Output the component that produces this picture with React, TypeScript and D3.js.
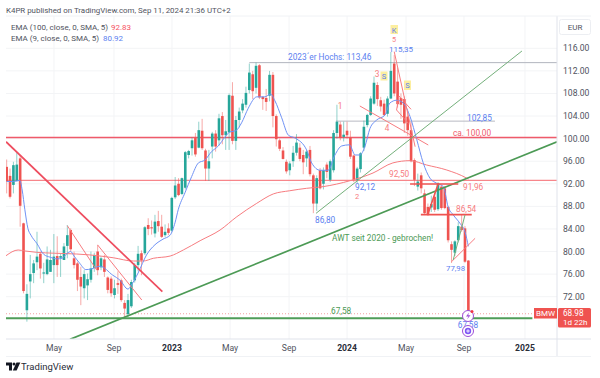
import React from "react";
import * as d3 from "d3";

const opens = [95,93.4,91.8,92.5,96.5,85,69.6,74.7,76.2,78.1,
79.6,76.1,76,76.4,77.6,79.2,78.9,78.5,81,83.8,
78.8,77.9,75.5,73.5,74,75,77.1,80,77.2,78.6,
75.4,75.2,72.3,74.4,74.9,70.9,68.9,70.3,74.9,77.6,
79.7,79.7,84.7,84.3,83.2,85.4,84.4,82.9,84.1,83.7,
89.6,92,90.2,91.3,97.1,98.3,100.1,98.4,101.4,97.9,
94.7,98.6,100.9,99.7,104,100.6,101.1,107.6,99.6,103.3,
105,106,108.6,111.4,109,113,107.4,107.2,107.6,111.3,
104,99.7,97.9,95.9,94.4,96,97.5,98.4,97.1,96.5,
98,93.5,88.5,94.4,92,95.4,92.7,94.4,101,102.5,
100.3,101.4,100.2,97,92.7,94.6,98.4,102.4,104.2,106.2,
109.5,106.8,106.2,104.4,107.1,113.3,110.1,107.2,107,103.9,
101.5,96.2,91.5,93.5,90.3,87.9,87.8,89.7,87.5,91.5,
91.2,87.9,81.3,79.8,82,84.4,84.1,78.4];
const closes = [92.4,89.7,95.3,95.4,88.1,73,72.5,76,77.9,79.1,
77,76.3,78.6,78.5,79.1,77.6,79.2,80.9,82.9,80.4,
77.6,75,73.8,76,75.1,77,79.4,76.7,78.8,76.4,
73.2,72.6,73.5,74.1,71.4,69.9,71.4,74.6,77.6,79.6,
78.4,84.3,84,84.1,85.3,84.5,82.6,83.5,83.3,89.5,
91.7,90,93,97.6,97.8,99.7,97.2,101.5,98.3,94.7,
96,100.9,98.6,103.6,100.6,101.3,107.7,99.6,103.3,104.8,
106.2,108.1,111.7,108.4,112.9,107.3,107,106.5,111.3,104,
99.9,98.2,96.4,94.2,95.6,97.5,99.3,96.4,95.8,97.7,
93.7,88.5,93,91.2,94.4,94.1,96,101,103,100.1,
100.7,100.6,96.8,92.7,94.7,97.4,102.1,104.2,107.1,109.9,
107,105.7,104.2,107.1,112,108,106.1,106,102.7,101.5,
96,92.7,92.4,91.2,86.8,86.5,88.4,87.4,92.1,87.7,
87.7,82,80.3,81.8,84.5,83.8,78.2,68.98];
const highs = [96.3,94.7,95.9,97.5,97.1,85.1,74.2,79.4,78.5,83.5,
80,78,80.9,80.3,83.1,82.7,79.6,81.5,84.7,84.1,
80,78.2,77.3,76.7,76.1,80,79.8,81.2,79.2,79.4,
75.6,75.6,75,76.5,75.2,71.4,72.5,75,78,81,
80.2,84.5,85.9,85.5,86.5,87.2,86.5,84.8,85,89.7,
93.2,93,93.1,97.8,98,100.2,101,103,103.5,98.2,
98,101.2,101.5,104.4,104.7,103.3,108,110,104,105.5,
107,109.2,113.3,112,113.46,113.2,107.5,108.8,112,111.8,
104.3,100,98.5,96.3,96,98.7,100.8,99.2,98,98,
98.7,93.8,93.5,94.8,94.9,95.8,96.3,101.5,106,103,
103,103,101.4,97.2,95,97.6,103.2,104.4,107.5,111,
110,107.4,106.9,107.5,115.35,114.8,112.6,108,107.5,104.5,
103,96.5,93.8,94,91,88.5,89.9,90.5,92.3,91.8,
91.6,88,81.8,82,85.2,86.5,84.5,78.5];
const lows = [90.3,89.4,90.3,92.4,84.4,72.6,67.58,71.7,74.4,76.7,
75.2,74.4,75.8,76.4,74.4,75.5,75.5,78.5,78.8,80,
77,73,70.5,71.7,71.4,74.5,76.4,75.8,76.7,75.5,
72.6,72,71.7,72.5,71.1,68.4,68.4,70,74.5,76.5,
75.8,79.4,82.9,83,82.5,83.5,82.4,82.6,82.9,83.5,
89.3,89.8,90,91,96.5,97,96.8,98.3,98,92.5,
92.5,96.5,97.7,98.8,99,98,98,99,98,102,
104.5,105.5,108,107,108,107,105.1,104.9,106.6,102,
98.6,97.8,96.3,93.8,93.5,95,97,96,93.7,95,
93.3,86.8,87.2,91,91,93,92.3,94,100,99.7,
99.5,100,96.4,92.3,92.12,94,97.8,102,104,106,
105.8,104.8,104,103.9,107,107.5,105.5,103.5,101,100.5,
95.8,91.6,90.8,90.3,86.5,86.3,87,87,87.2,87.4,
87.5,81.6,77.98,79.2,81.6,83.5,78,68.5];

const ema9Weeks = [0,2,3.9,4.6,5.4,6.3,7.2,9,11,12.9,15,16.4,18,19,20,21.7,23.5,25,27.7,31.5,33.6,36,37,39,41.5,44,46.4,48.5,50,50.9,52.9,54.9,56.9,58.8,60.8,62.8,64.8,66.3,68,69.7,71.7,74.2,76.6,78.3,79.6,81.6,83.6,85.6,89,90.5,93,95.4,97.4,99.4,101.7,103.4,104.8,106.3,107.8,109.8,112.3,113.7,115.7,117.7,119.7,121.7,123.6,125.6,127.6,129.6,131,132.5,134.5,136,137];
const ema9Values = [92.4,92.4,92.6,90.9,87.4,84.1,82.9,81.4,79.5,79,78.7,78.8,79.7,80,79.2,77.9,76.8,76.9,77.4,75.8,74.95,73.35,74.07,76.2,79.4,81.2,82.2,82.9,85.2,87.4,90.4,93.3,95.7,96.2,97.7,98.7,100.3,101.2,101.4,102.8,105.4,107.4,107.4,107.9,106.7,103.7,100.6,100.1,98,95.7,94.4,94.4,97.1,98.7,98.9,97.1,97.1,98.6,101.8,103.3,104.2,106.3,106.8,106.3,103.9,99.8,95.7,93,92.1,91.5,87.9,86.5,85,83.5,80.92];
const ema100Weeks = [-0.2,3.4,5.4,8.9,14.3,20.8,24.7,31.6,37.6,40.5,43.5,48.5,52.4,57.4,63.3,68.3,74.2,79.1,84,89,93.9,101.9,108.7,114.6,119.7,124.6,130.6,136.5,137];
const ema100Values = [79.26,80.27,80.1,79.86,79.7,79.56,79.4,78.9,78.32,78.32,78.8,79.2,80.27,81.92,83.8,86.17,88.54,90.2,90.77,91.2,91.5,92.55,93.91,95.7,96.1,95.33,94.44,93,92.83];

const yTicks = [116,112,108,104,100,96,92,88,84,80,76,72];
const xTickWeeks = [14.04,31.84,49.05,66.3,83.8,101,118.5,135.7,153.8];
const xTickLabels = ["May","Sep","2023","May","Sep","2024","May","Sep","2025"];

const redThin = [
  [[18,84.57],[26.7,76.73]],
  [[27,81.16],[40.1,71.41]],
  [[104.8,105.78],[125.1,98.87]],
  [[115,115.4],[121.2,98.57]],
  [[116.4,107.55],[120,105.19]],
  [[115.7,105.07],[119.2,102.71]],
  [[116.4,107.55],[115.7,105.07]],
  [[132,78.2],[139,82.34]],
];
const redThick = [
  [[119.7,91.96],[134,91.96]],
  [[122.9,86.54],[138,86.54]],
  [[124.9,86.47],[128.1,92.08]],
];
const greenThin = [
  [[91.8,86.77],[152.9,115.52]],
  [[132.5,78.5],[136,86.47]],
];

const W = 600, H = 378, LEFT = 6, RIGHT = 557, TOP = 16, BOTTOM = 339;
const x = d3.scaleLinear().domain([-0.2, 163.3]).range([6, 557]);
const y = d3.scaleLinear().domain([116, 72]).range([48.3, 296.7]);
const RED = "#ef5350", TEAL = "#26a69a", FONT = "Roboto, 'Liberation Sans', Arial, sans-serif";

const pathLine = d3.line<[number, number]>().x(d => x(d[0])).y(d => y(d[1]));
const pathCurve = d3.line<[number, number]>().x(d => x(d[0])).y(d => y(d[1])).curve(d3.curveMonotoneX);
const zip = (a: number[], b: number[]) => a.map((v, i) => [v, b[i]] as [number, number]);

function T({ x: tx, y: ty, c, s = 8.3, a = "start", w, children }: any) {
  return <text x={tx} y={ty} fill={c} fontSize={s} textAnchor={a} fontWeight={w} fontFamily={FONT}>{children}</text>;
}

export default function App() {
  const hl = (p: number, c: string, sw: number, from = x.domain()[0], to = x.domain()[1]) =>
    <line x1={x(from)} x2={x(to)} y1={y(p)} y2={y(p)} stroke={c} strokeWidth={sw} />;
  return (
    <svg width={W} height={H} style={{ position: "fixed", left: 0, top: 0, background: "#fff" }}>
      <defs>
        <clipPath id="plot"><rect x={LEFT} y={TOP} width={RIGHT - LEFT} height={BOTTOM - TOP} /></clipPath>
      </defs>
      <T x={6} y={13} c="#50535e" s={7.9}>K4PR published on TradingView.com, Sep 11, 2024 21:36 UTC+2</T>

      {yTicks.map(t => <line key={t} x1={LEFT} x2={RIGHT} y1={y(t)} y2={y(t)} stroke="#f3f4f6" />)}
      {xTickWeeks.map(t => <line key={t} x1={x(t)} x2={x(t)} y1={TOP} y2={BOTTOM} stroke="#f3f4f6" />)}

      <g clipPath="url(#plot)">
        {hl(100.2, "#ef5a6a", 1.6)}
        {hl(92.6, "#f7868b", 1.1)}
        {hl(113.46, "#b2b5be", 1, 72)}
        {hl(103.1, "#b8bac2", 1, 97.7, 144.9)}
        {hl(68.17, "#4f9d58", 2, x.domain()[0], 156)}
        <line x1={x(x.domain()[0])} x2={x(156)} y1={y(68.98)} y2={y(68.98)} stroke="#f2a3a3" strokeWidth={1} strokeDasharray="1 2" />

        {d3.range(opens.length).map(i => {
          const up = closes[i] >= opens[i];
          const col = up ? TEAL : RED;
          const top = y(Math.max(opens[i], closes[i]));
          const h = Math.max(1, Math.abs(y(opens[i]) - y(closes[i])));
          return (
            <g key={i}>
              <line x1={x(i)} x2={x(i)} y1={y(highs[i])} y2={y(lows[i])} stroke={col} strokeOpacity={0.5} strokeWidth={1} />
              <rect x={x(i) - 1.3} y={top} width={2.6} height={h} fill={col} />
            </g>
          );
        })}

        <path d={pathCurve(zip(ema100Weeks, ema100Values))!} fill="none" stroke="#f77c80" strokeWidth={1} />
        <path d={pathCurve(zip(ema9Weeks, ema9Values))!} fill="none" stroke="#6f92f5" strokeWidth={1} />

        <path d={pathLine([[-0.2, 99.45], [46.2, 72.88]])!} fill="none" stroke="#ee4d5f" strokeWidth={1.7} />
        <path d={pathLine([[18.8, 64.45], [163.3, 99.45]])!} fill="none" stroke="#4c9a55" strokeWidth={1.7} />
        {redThin.map((l, i) => <path key={i} d={pathLine(l as any)!} fill="none" stroke="#f77c80" strokeWidth={1} />)}
        {redThick.map((l, i) => <path key={i} d={pathLine(l as any)!} fill="none" stroke="#ef5350" strokeWidth={1.6} />)}
        {greenThin.map((l, i) => <path key={i} d={pathLine(l as any)!} fill="none" stroke="#74b07b" strokeWidth={1} />)}
      </g>

      <T x={11} y={30} c="#50535e" s={8}>EMA (100, close, 0, SMA, 5)</T>
      <T x={111} y={30} c="#f7525f" s={8}>92.83</T>
      <T x={11} y={41} c="#50535e" s={8}>EMA (9, close, 0, SMA, 5)</T>
      <T x={103} y={41} c="#5b80f0" s={8}>80.92</T>

      <rect x={390.5} y={25} width={7.5} height={9} fill="#fcee9f" />
      <T x={394} y={32.5} c="#5b80f0" a="middle" s={7.5}>K</T>
      <T x={394} y={41.5} c="#f77c80" a="middle" s={7.3}>5</T>
      <T x={401} y={51.5} c="#5b80f0" a="middle" s={8}>115,35</T>
      <T x={288} y={60} c="#5b80f0">2023´er Hochs: 113,46</T>
      <T x={377} y={77} c="#f77c80" a="middle">3</T>
      <rect x={380.5} y={71.5} width={7} height={9} fill="#fcee9f" />
      <T x={384} y={79} c="#5b80f0" a="middle" s={7.5}>S</T>
      <rect x={404} y={80.5} width={7} height={9.5} fill="#fcee9f" />
      <T x={407.5} y={88.3} c="#5b80f0" a="middle" s={7.5}>S</T>
      <T x={340} y={109} c="#f77c80" a="middle">1</T>
      <T x={387} y={131} c="#f77c80" a="middle">4</T>
      <T x={467} y={121} c="#5b80f0">102,85</T>
      <T x={453} y={136} c="#ef5a6a">ca. 100,00</T>
      <T x={389} y={177} c="#f77c80">92,50</T>
      <T x={463} y={190} c="#f77c80">91,96</T>
      <T x={355} y={190} c="#5b80f0">92,12</T>
      <T x={357} y={198.5} c="#f77c80" a="middle" s={7.5}>2</T>
      <T x={315} y={223} c="#5b80f0">86,80</T>
      <T x={456} y={212} c="#f77c80">86,54</T>
      <T x={446} y={271} c="#5b80f0" s={7.8}>77,98</T>
      <T x={332} y={241} c="#4c9a55">AWT seit 2020 - gebrochen!</T>
      <T x={331} y={314} c="#4c9a55">67,58</T>
      <T x={468} y={328} c="#5b80f0" a="middle">67,58</T>

      <circle cx={468} cy={316} r={5.5} fill="#fff" stroke="#9c4dd8" strokeWidth={1} />
      <path d="M469 312.5 L466 316.5 H468.5 L467 319.5 L470.5 315.2 H468.2 Z" fill="#9c4dd8" />
      <circle cx={472} cy={311.5} r={1.5} fill="#f23645" />
      <circle cx={468} cy={331} r={5.5} fill="#fff" stroke="#9c4dd8" strokeWidth={1} />
      <circle cx={468} cy={331} r={3.2} fill="#7e57f5" />
      <path d="M468 329.2 V332.8 M466.2 331 H469.8" stroke="#fff" strokeWidth={0.9} />

      <line x1={RIGHT} x2={RIGHT} y1={TOP} y2={356} stroke="#e0e3eb" />
      <line x1={LEFT} x2={591} y1={BOTTOM} y2={BOTTOM} stroke="#e0e3eb" />
      <line x1={LEFT} x2={591} y1={356.5} y2={356.5} stroke="#f0f2f5" />
      <line x1={LEFT} x2={591} y1={TOP} y2={TOP} stroke="#f0f2f5" />
      <rect x={559.5} y={19.5} width={31} height={15} rx={2} fill="#fff" stroke="#eceef2" />
      <T x={575} y={30} c="#50535e" a="middle" s={8}>EUR</T>

      {yTicks.map(t => <T key={t} x={563} y={y(t) + 3} c="#50535e" s={8.6}>{t.toFixed(2)}</T>)}
      {xTickWeeks.map((t, i) => {
        const yr = xTickLabels[i].startsWith("20");
        return <T key={t} x={x(t)} y={351} c={yr ? "#2a2e39" : "#50535e"} a="middle" s={8.6} w={yr ? 700 : 400}>{xTickLabels[i]}</T>;
      })}

      <rect x={534} y={308} width={23} height={10.5} fill={RED} />
      <T x={545.5} y={316.3} c="#fff" a="middle" s={8}>BMW</T>
      <rect x={558} y={308} width={33} height={19.5} rx={1.5} fill={RED} />
      <T x={563} y={316.3} c="#fff" s={8.2}>68.98</T>
      <T x={563} y={325} c="#fff" s={8}>1d 22h</T>

      <path d="M6 362.5 H12 V370.5 H9 V365.5 H6 Z" fill="#131722" />
      <circle cx={14} cy={364} r={1.5} fill="#131722" />
      <path d="M16.5 362.5 H20.3 L16.6 370.5 H12.8 Z" fill="#131722" />
      <T x={21} y={370} c="#2a2e39" s={9.5}>TradingView</T>
    </svg>
  );
}
